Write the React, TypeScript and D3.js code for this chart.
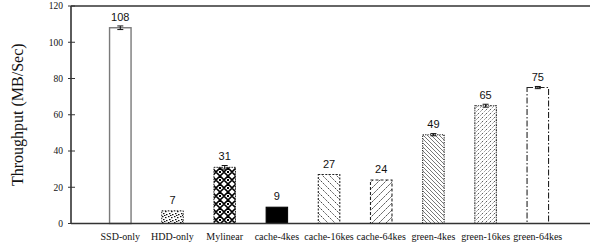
import { useRef, useEffect } from "react";
import * as d3 from "d3";

const CATEGORIES = [
  "SSD-only",
  "HDD-only",
  "Mylinear",
  "cache-4kes",
  "cache-16kes",
  "cache-64kes",
  "green-4kes",
  "green-16kes",
  "green-64kes",
];
const VALUES = [108, 7, 31, 9, 27, 24, 49, 65, 75];
const ERRORS = [1, 0, 1, 0, 0, 0, 0.6, 0.8, 0.6];
const Y_TICKS = [0, 20, 40, 60, 80, 100, 120];

const W = 590;
const H = 250;
const LEFT = 71;
const TOP = 6;
const BOTTOM = 223.5;
const SERIF = "'Liberation Serif', 'Times New Roman', serif";
const SANS = "'Liberation Sans', Arial, sans-serif";

// fill + border style per bar
const STYLES = [
  { fill: "#fff", stroke: "#7a7a7a", dash: "", sw: 1.4 },
  { fill: "url(#pDots)", stroke: "#222", dash: "1.5,1.5", sw: 1 },
  { fill: "url(#pDiamond)", stroke: "#222", dash: "1.5,1", sw: 1 },
  { fill: "#000", stroke: "#000", dash: "", sw: 1 },
  { fill: "url(#pBack)", stroke: "#222", dash: "2,1.5", sw: 1.1 },
  { fill: "url(#pFwd)", stroke: "#222", dash: "3,2", sw: 1.1 },
  { fill: "url(#pBackDense)", stroke: "#222", dash: "1.2,1.2", sw: 1.1 },
  { fill: "url(#pFwdDots)", stroke: "#222", dash: "2,1,1,1", sw: 1.1 },
  { fill: "#fff", stroke: "#222", dash: "6,2,1.5,2", sw: 1.1 },
];

export default function App() {
  const svgRef = useRef<SVGSVGElement>(null);

  useEffect(() => {
    const svg = d3.select(svgRef.current);
    svg.selectAll("*").remove();

    const defs = svg.append("defs");

    // dotted HDD pattern
    const pd = defs
      .append("pattern")
      .attr("id", "pDots")
      .attr("patternUnits", "userSpaceOnUse")
      .attr("width", 6)
      .attr("height", 6);
    pd.append("rect").attr("width", 6).attr("height", 6).attr("fill", "#fff");
    [[0, 0], [3, 1], [1, 3], [4, 4], [2, 5]].forEach(([x, y]) =>
      pd.append("rect").attr("x", x).attr("y", y).attr("width", 1.5).attr("height", 1.2).attr("fill", "#111")
    );

    // diamond lattice
    const pm = defs
      .append("pattern")
      .attr("id", "pDiamond")
      .attr("patternUnits", "userSpaceOnUse")
      .attr("width", 8)
      .attr("height", 8);
    pm.append("rect").attr("width", 8).attr("height", 8).attr("fill", "#fff");
    pm.append("path")
      .attr("d", "M4,0 L8,4 L4,8 L0,4 Z")
      .attr("fill", "none")
      .attr("stroke", "#000")
      .attr("stroke-width", 1.6);
    pm.append("rect").attr("x", 3).attr("y", 3).attr("width", 2).attr("height", 2).attr("fill", "#000");

    const lines = (id: string, size: number, d: string, color: string, sw: number, dash = "") => {
      const p = defs
        .append("pattern")
        .attr("id", id)
        .attr("patternUnits", "userSpaceOnUse")
        .attr("width", size)
        .attr("height", size);
      p.append("rect").attr("width", size).attr("height", size).attr("fill", "#fff");
      p.append("path")
        .attr("d", d)
        .attr("stroke", color)
        .attr("stroke-width", sw)
        .attr("stroke-dasharray", dash)
        .attr("fill", "none");
    };
    lines("pBack", 7, "M-1,-1 L8,8 M-1,6 L1,8 M6,-1 L8,1", "#222", 0.9, "1.5,1");
    lines("pFwd", 7, "M-1,8 L8,-1 M-1,1 L1,-1 M6,8 L8,6", "#222", 0.9, "2,1");
    lines("pBackDense", 4, "M-1,-1 L5,5 M-1,3 L1,5 M3,-1 L5,1", "#555", 0.8);
    lines("pFwdDots", 4, "M-1,5 L5,-1 M-1,1 L1,-1 M3,5 L5,3", "#111", 1, "1,1.3");

    const x = d3.scalePoint<string>().domain(CATEGORIES).range([120.3, 537.8]);
    const bw = 21.5;
    const y = d3.scaleLinear().domain([0, 120]).range([BOTTOM, TOP]);

    // frame
    svg.append("line")
      .attr("x1", LEFT).attr("x2", W).attr("y1", TOP).attr("y2", TOP)
      .attr("stroke", "#333").attr("stroke-width", 1.6);

    // bars
    CATEGORIES.forEach((c, i) => {
      const s = STYLES[i];
      const cx = x(c) as number;
      svg.append("rect")
        .attr("x", cx - bw / 2)
        .attr("y", y(VALUES[i]))
        .attr("width", bw)
        .attr("height", y(0) - y(VALUES[i]))
        .attr("fill", s.fill)
        .attr("stroke", s.stroke)
        .attr("stroke-width", s.sw)
        .attr("stroke-dasharray", s.dash);

      if (ERRORS[i] > 0) {
        const y1 = y(VALUES[i] + ERRORS[i]);
        const y2 = y(VALUES[i] - ERRORS[i]);
        const g = svg.append("g").attr("stroke", "#111").attr("stroke-width", 1);
        g.append("line").attr("x1", cx).attr("x2", cx).attr("y1", y1).attr("y2", y2);
        g.append("line").attr("x1", cx - 3).attr("x2", cx + 3).attr("y1", y1).attr("y2", y1);
        g.append("line").attr("x1", cx - 3).attr("x2", cx + 3).attr("y1", y2).attr("y2", y2);
      }

      svg.append("text")
        .attr("x", cx)
        .attr("y", y(VALUES[i]) - 7)
        .attr("text-anchor", "middle")
        .attr("font-family", SANS)
        .attr("font-size", 11)
        .attr("fill", "#111")
        .text(VALUES[i]);

      svg.append("text")
        .attr("x", cx)
        .attr("y", 239.5)
        .attr("text-anchor", "middle")
        .attr("font-family", SERIF)
        .attr("font-size", 10)
        .attr("fill", "#111")
        .text(c);
    });

    // axes on top of bars
    svg.append("line")
      .attr("x1", LEFT).attr("x2", W).attr("y1", BOTTOM).attr("y2", BOTTOM)
      .attr("stroke", "#333").attr("stroke-width", 1.6);
    svg.append("line")
      .attr("x1", LEFT).attr("x2", LEFT).attr("y1", TOP).attr("y2", BOTTOM)
      .attr("stroke", "#333").attr("stroke-width", 1.6);

    Y_TICKS.forEach((t) => {
      svg.append("line")
        .attr("x1", LEFT - 3).attr("x2", LEFT + 4)
        .attr("y1", y(t)).attr("y2", y(t))
        .attr("stroke", "#333").attr("stroke-width", 1);
      svg.append("text")
        .attr("x", 63)
        .attr("y", y(t) + 3.3)
        .attr("text-anchor", "end")
        .attr("font-family", SERIF)
        .attr("font-size", 9.5)
        .attr("fill", "#111")
        .text(t);
    });

    svg.append("text")
      .attr("transform", `translate(23,${(TOP + BOTTOM) / 2}) rotate(-90)`)
      .attr("text-anchor", "middle")
      .attr("font-family", SERIF)
      .attr("font-size", 16)
      .attr("fill", "#111")
      .text("Throughput (MB/Sec)");
  }, []);

  return (
    <svg
      ref={svgRef}
      width={W}
      height={H}
      style={{ position: "absolute", left: 0, top: 0, background: "#fff" }}
    />
  );
}
